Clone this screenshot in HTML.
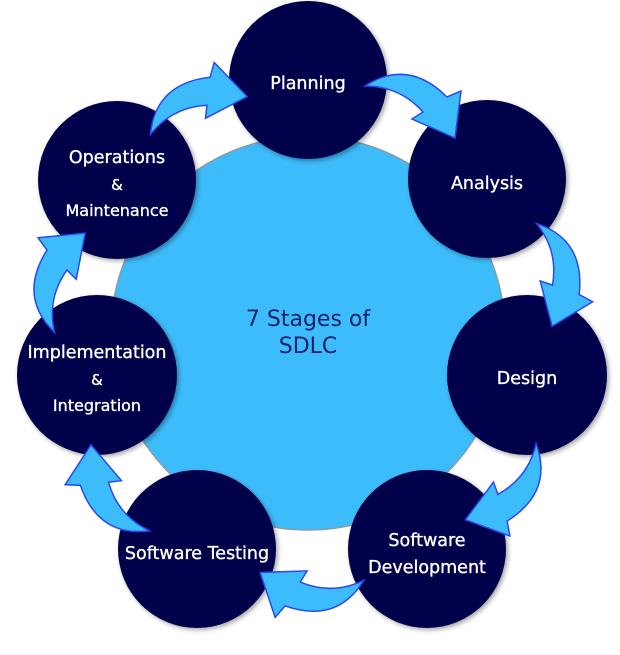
<!DOCTYPE html>
<html><head><meta charset="utf-8"><style>
html,body{margin:0;padding:0;background:#fff;}
svg{display:block;}
text{font-family:"DejaVu Sans","Liberation Sans",sans-serif;}
</style></head><body>
<svg width="620" height="655" viewBox="0 0 620 655" xmlns="http://www.w3.org/2000/svg">
<defs>
<filter id="sh" x="-20%" y="-20%" width="140%" height="140%">
<feGaussianBlur in="SourceAlpha" stdDeviation="2.5"/>
<feOffset dx="2" dy="2" result="b"/>
<feFlood flood-color="#000" flood-opacity="0.35"/>
<feComposite in2="b" operator="in"/>
<feMerge><feMergeNode/><feMergeNode in="SourceGraphic"/></feMerge>
</filter>
</defs>
<circle cx="308" cy="333" r="197" fill="#3dbcfb" stroke="#8a9aa6" stroke-width="1.5"/>
<g fill="#03034c" filter="url(#sh)">
<circle cx="308" cy="80" r="79"/>
<circle cx="487" cy="179" r="79"/>
<circle cx="527" cy="375" r="80"/>
<circle cx="427" cy="549" r="79"/>
<circle cx="197" cy="549" r="79"/>
<circle cx="97" cy="375" r="80"/>
<circle cx="117" cy="180" r="79"/>
</g>
<g fill="#3dbcfb" stroke="#2a48ee" stroke-width="1.5" stroke-linejoin="miter">
<path id="ar" d="M365,86 Q408,58 447,97 L461,91 L455,138 L412,119 L423,112 Q400,86 365,86 Z"/>
<use href="#ar" transform="rotate(51.43 308 333)"/>
<use href="#ar" transform="rotate(102.86 308 333)"/>
<use href="#ar" transform="rotate(154.29 308 333)"/>
<use href="#ar" transform="rotate(205.71 308 333)"/>
<use href="#ar" transform="rotate(257.14 308 333)"/>
<use href="#ar" transform="rotate(308.57 308 333)"/>
</g>
<g fill="#fff" stroke="#fff" stroke-width="0.35" font-size="17.5" text-anchor="middle">
<text x="308" y="89">Planning</text>
<text x="487" y="189">Analysis</text>
<text x="527" y="384">Design</text>
<text x="427" y="546">Software</text>
<text x="427" y="573">Development</text>
<text x="197" y="559">Software Testing</text>
<text x="97" y="358">Implementation</text>
<text x="97" y="385" font-size="15">&amp;</text>
<text x="97" y="411" font-size="16">Integration</text>
<text x="117" y="163">Operations</text>
<text x="117" y="190" font-size="15">&amp;</text>
<text x="117" y="216" font-size="16">Maintenance</text>
</g>
<g fill="#14206a" font-size="22" text-anchor="middle">
<text x="308" y="326">7 Stages of</text>
<text x="308" y="353">SDLC</text>
</g>
</svg>
</body></html>
